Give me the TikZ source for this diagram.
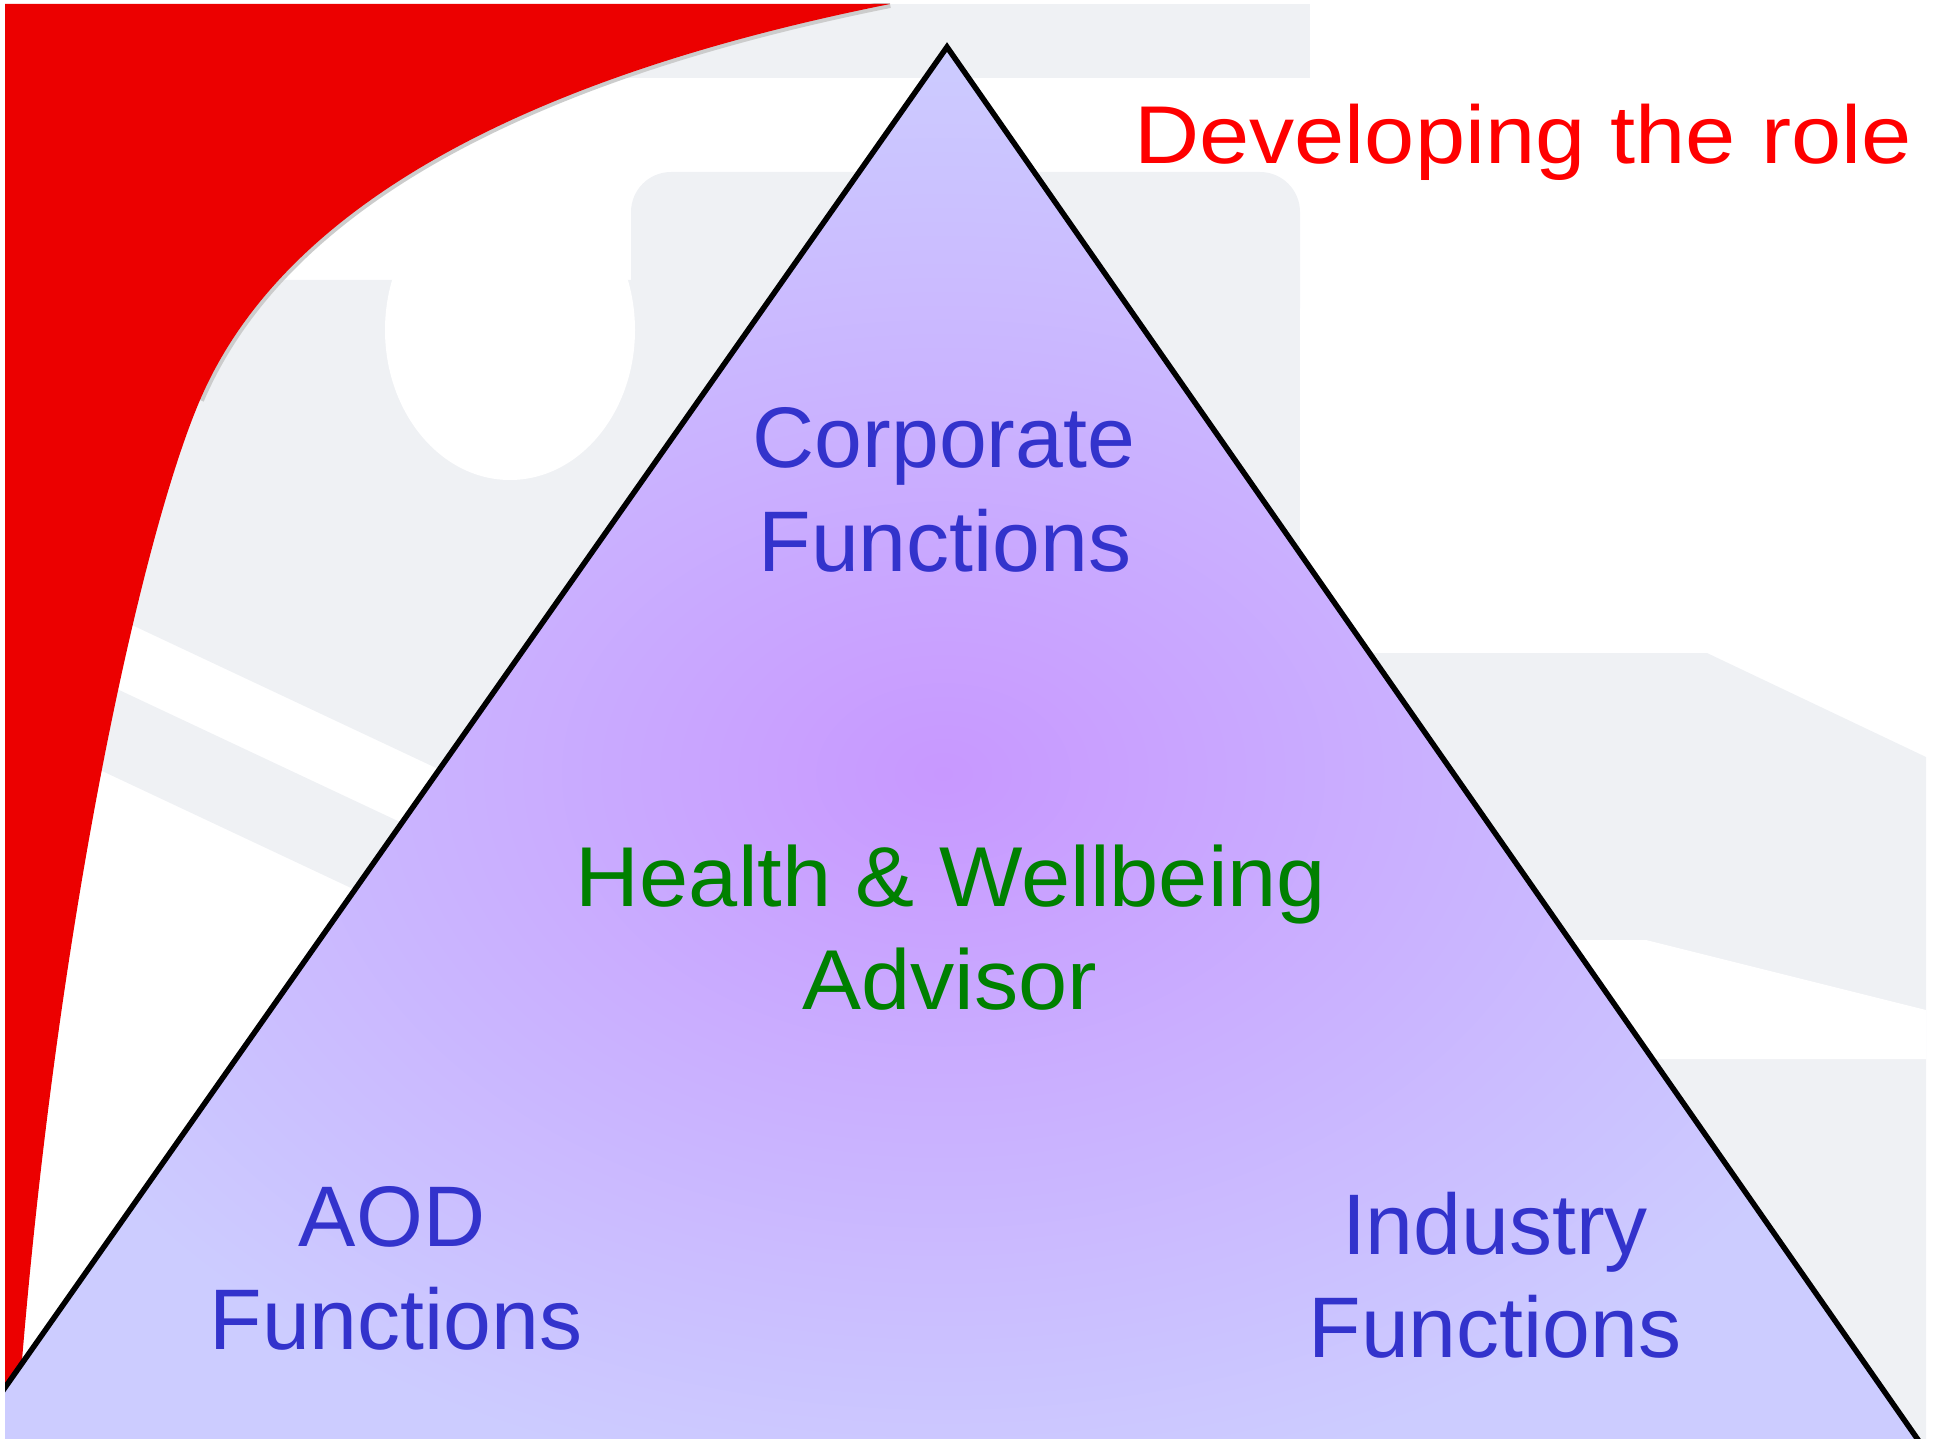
\documentclass[tikz,border=0pt]{standalone}
\usepackage{fontspec}
\setmainfont{Liberation Sans}
\definecolor{swoosh}{RGB}{236,0,0}
\definecolor{slide}{RGB}{239,241,244}
\definecolor{pyrout}{RGB}{204,204,255}
\definecolor{pyrin}{RGB}{200,152,255}
\definecolor{funcblue}{RGB}{51,51,204}
\definecolor{advgreen}{RGB}{0,128,0}
\begin{document}
\begin{tikzpicture}[x=1pt, y=-1pt,
	func/.style={anchor=base, inner sep=0pt, text=funcblue, font=\fontsize{86}{104}\selectfont},
	adv/.style={anchor=base, inner sep=0pt, text=advgreen, font=\fontsize{85}{103}\selectfont},
	roletitle/.style={anchor=base, inner sep=0pt, text=red, font=\fontsize{82}{98}\selectfont}]
	\useasboundingbox (0,0) rectangle (1938,1439);
	\begin{scope}
	\clip (5,4) rectangle (1926,1439);
	%hintergrund
	\fill[slide] (600,4) rectangle (1310,78);
	\fill[slide, rounded corners=40] (631,172) rectangle (1300,348);
	\fill[slide] (1000,300) rectangle (1300,700);
	\fill[slide] (100,280) -- (900,280) -- (900,986) -- (100,610) -- cycle;
	\fill[slide] (100,681) -- (900,1057) -- (900,1146) -- (100,770) -- cycle;
	\fill[white] (510,330) ellipse [x radius=125, y radius=150];
	\fill[slide] (1200,653) -- (1707,653) -- (1926,757) -- (1926,1439) -- (1200,1439) -- cycle;
	\fill[white] (1200,940) -- (1646,940) -- (1926,1010) -- (1926,1059) -- (1200,1059) -- cycle;
	%swoosh
	\draw[gray!40, line width=8] (890,4) .. controls (560,70) and (290,190) .. (200,400);
	\fill[swoosh] (5,4) -- (890,4) .. controls (560,70) and (290,190) .. (200,400)
		.. controls (140,540) and (50,950) .. (16,1439) -- (5,1439) -- cycle;
	%pyramide
	\shadedraw[shading=radial, inner color=pyrin, outer color=pyrout, line width=5.5]
		(947,47) -- (1960,1500) -- (-74,1500) -- cycle;
	\end{scope}
	\node[roletitle] (title) at (1523,164) {\scalebox{1.1}[1]{Developing the role}};
	\node[func] (corp)  at (944,467)   {Corporate};
	\node[func] (corpf) at (945,571)   {Functions};
	\node[adv]  (hwb)   at (951,906)   {\scalebox{1.04}[1]{Health \& Wellbeing}};
	\node[adv]  (advs)  at (950,1009)  {\scalebox{1.04}[1]{Advisor}};
	\node[func] (aod)   at (392,1246)  {AOD};
	\node[func] (aodf)  at (396,1349)  {Functions};
	\node[func] (ind)   at (1495,1254) {Industry};
	\node[func] (indf)  at (1495,1357) {Functions};
\end{tikzpicture}
\end{document}
